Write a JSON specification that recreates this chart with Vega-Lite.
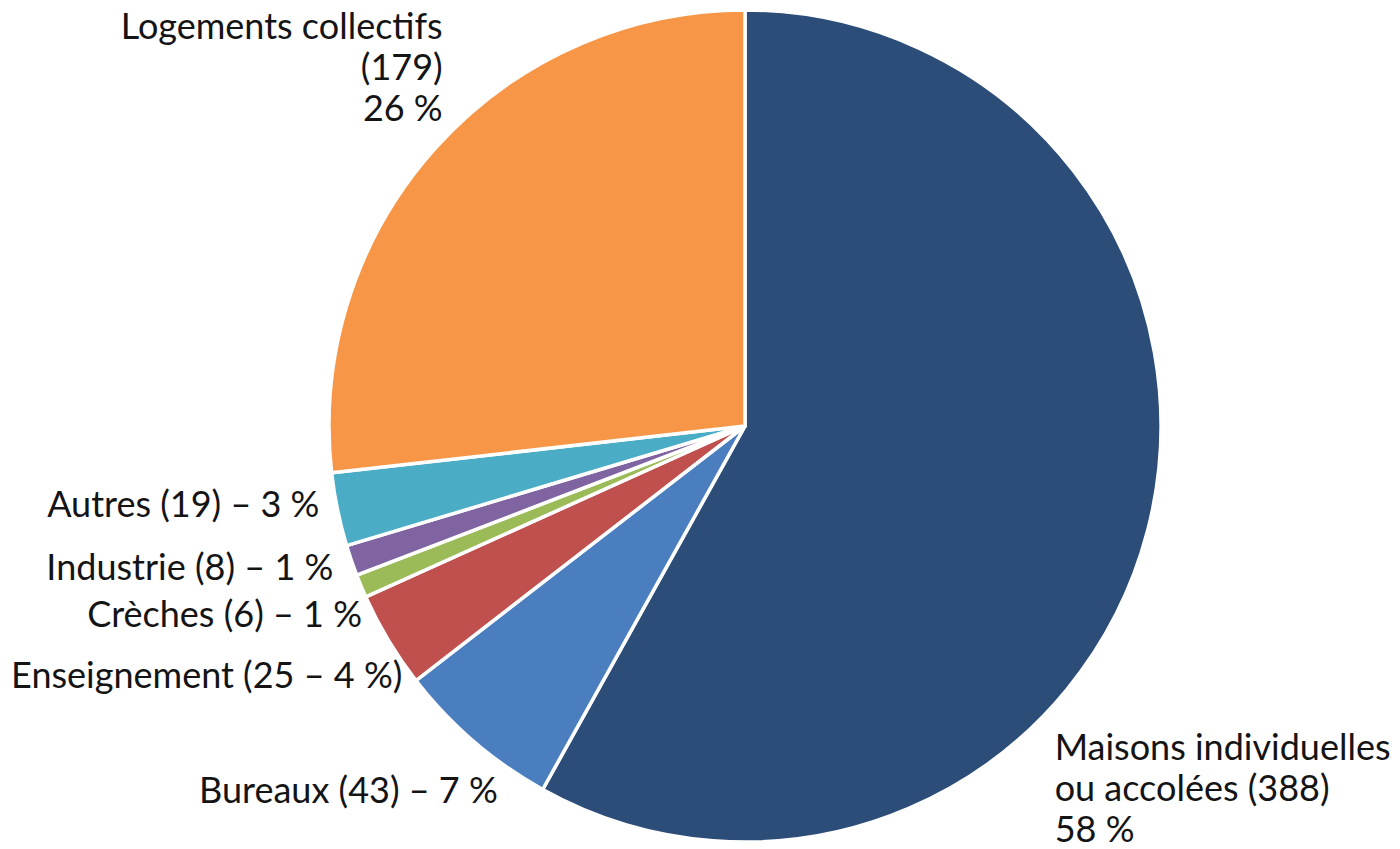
{
  "$schema": "https://vega.github.io/schema/vega-lite/v6.json",
  "autosize": {"type": "none"},
  "padding": {"left": 325, "top": 3, "right": 235, "bottom": 0},
  "width": 840,
  "height": 846,
  "background": "white",
  "config": {"view": {"stroke": null}},
  "data": {
    "values": [
      {"cat": "Maisons individuelles ou accolées", "ord": 1, "value": 388, "label": "Maisons individuelles\nou accolées (388)\n58 %"},
      {"cat": "Bureaux", "ord": 2, "value": 43, "label": "Bureaux (43) – 7 %"},
      {"cat": "Enseignement", "ord": 3, "value": 25, "label": "Enseignement (25 – 4 %)"},
      {"cat": "Crèches", "ord": 4, "value": 6, "label": "Crèches (6) – 1 %"},
      {"cat": "Industrie", "ord": 5, "value": 8, "label": "Industrie (8) – 1 %"},
      {"cat": "Autres", "ord": 6, "value": 19, "label": "Autres (19) – 3 %"},
      {"cat": "Logements collectifs", "ord": 7, "value": 179, "label": "Logements collectifs\n(179)\n26 %"}
    ]
  },
  "encoding": {
    "theta": {"field": "value", "type": "quantitative", "stack": true},
    "order": {"field": "ord", "type": "quantitative"}
  },
  "layer": [
    {
      "mark": {"type": "arc", "outerRadius": 416, "stroke": "white", "strokeWidth": 3.5},
      "encoding": {
        "color": {
          "field": "cat", "type": "nominal", "legend": null,
          "scale": {
            "domain": ["Maisons individuelles ou accolées", "Bureaux", "Enseignement", "Crèches", "Industrie", "Autres", "Logements collectifs"],
            "range": ["#2b4d78", "#4a7ebf", "#c0504d", "#9bbb59", "#8064a2", "#4bacc6", "#f79646"]
          }
        }
      }
    },
    {
      "mark": {"type": "text", "radius": 416, "align": "left", "baseline": "alphabetic", "dx": -93, "dy": 229, "font": "Lato", "fontSize": 36, "lineHeight": 41, "lineBreak": "\n", "color": "#141414"},
      "encoding": {"text": {"condition": {"test": "datum.ord === 1", "field": "label"}, "value": ""}}
    },
    {
      "mark": {"type": "text", "radius": 416, "align": "right", "baseline": "alphabetic", "dx": 24, "dy": 62, "font": "Lato", "fontSize": 36, "lineHeight": 41, "lineBreak": "\n", "color": "#141414"},
      "encoding": {"text": {"condition": {"test": "datum.ord === 2", "field": "label"}, "value": ""}}
    },
    {
      "mark": {"type": "text", "radius": 416, "align": "right", "baseline": "alphabetic", "dx": 14, "dy": 48, "font": "Lato", "fontSize": 36, "lineHeight": 41, "lineBreak": "\n", "color": "#141414"},
      "encoding": {"text": {"condition": {"test": "datum.ord === 3", "field": "label"}, "value": ""}}
    },
    {
      "mark": {"type": "text", "radius": 416, "align": "right", "baseline": "alphabetic", "dx": 1, "dy": 41, "font": "Lato", "fontSize": 36, "lineHeight": 41, "lineBreak": "\n", "color": "#141414"},
      "encoding": {"text": {"condition": {"test": "datum.ord === 4", "field": "label"}, "value": ""}}
    },
    {
      "mark": {"type": "text", "radius": 416, "align": "right", "baseline": "alphabetic", "dx": -18, "dy": 20, "font": "Lato", "fontSize": 36, "lineHeight": 41, "lineBreak": "\n", "color": "#141414"},
      "encoding": {"text": {"condition": {"test": "datum.ord === 5", "field": "label"}, "value": ""}}
    },
    {
      "mark": {"type": "text", "radius": 416, "align": "right", "baseline": "alphabetic", "dx": -18, "dy": 7, "font": "Lato", "fontSize": 36, "lineHeight": 41, "lineBreak": "\n", "color": "#141414"},
      "encoding": {"text": {"condition": {"test": "datum.ord === 6", "field": "label"}, "value": ""}}
    },
    {
      "mark": {"type": "text", "radius": 416, "align": "right", "baseline": "alphabetic", "dx": 8, "dy": -110, "font": "Lato", "fontSize": 36, "lineHeight": 41, "lineBreak": "\n", "color": "#141414"},
      "encoding": {"text": {"condition": {"test": "datum.ord === 7", "field": "label"}, "value": ""}}
    }
  ]
}
